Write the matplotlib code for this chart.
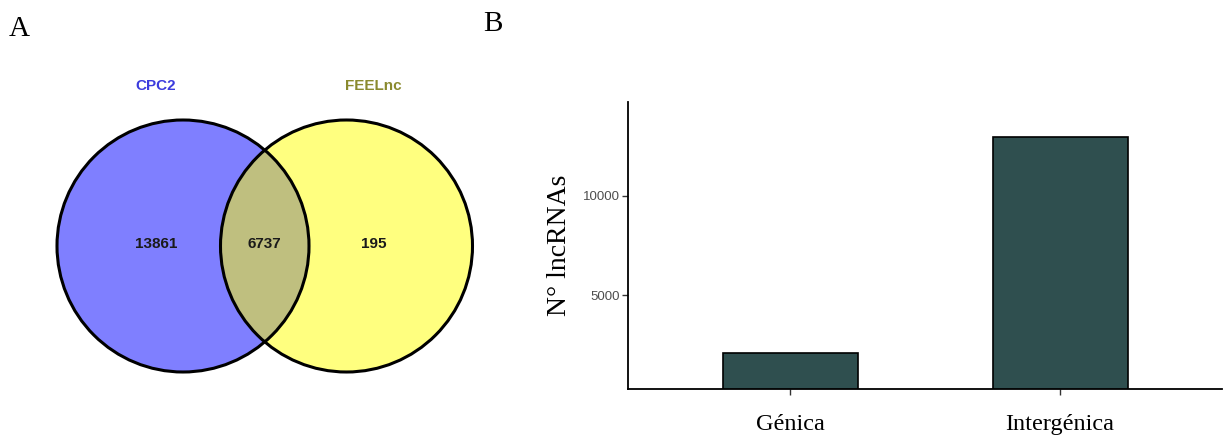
import matplotlib
matplotlib.use("Agg")
import matplotlib.pyplot as plt
from matplotlib.patches import Circle

# Venn counts
venn_sets = ["CPC2", "FEELnc"]
venn_counts = [13861, 6737, 195]  # only CPC2, both, only FEELnc
venn_colors = ["#0000FF", "#FFFF00"]
venn_label_colors = ["#3B3BDD", "#8A8A2E"]

# Bar data
categories = ["Génica", "Intergénica"]
counts = [2130, 12930]
yticks = [5000, 10000]

W, H = 1225, 437
fig = plt.figure(figsize=(W / 100, H / 100), dpi=100)

# Full-figure overlay in pixel coordinates for the Venn diagram and panel letters
ov = fig.add_axes([0, 0, 1, 1])
ov.set_xlim(0, W)
ov.set_ylim(H, 0)
ov.axis("off")

serif = ["Liberation Serif", "DejaVu Serif"]
sans = ["Liberation Sans", "DejaVu Sans"]

ov.text(9, 29, "A", fontsize=21, family=serif, ha="left", va="center")
ov.text(483, 24, "B", fontsize=21, family=serif, ha="left", va="center")

r = 126
centers = [(183, 246), (346.5, 246)]
for (cx, cy), col in zip(centers, venn_colors):
    ov.add_patch(Circle((cx, cy), r, facecolor=col, alpha=0.5, edgecolor="none", zorder=1))
for (cx, cy) in centers:
    ov.add_patch(Circle((cx, cy), r, facecolor="none", edgecolor="black", lw=2.2, zorder=2))

ov.text(156, 86, venn_sets[0], color=venn_label_colors[0], fontsize=11,
        fontweight="bold", family=sans, ha="center", va="center")
ov.text(373, 86, venn_sets[1], color=venn_label_colors[1], fontsize=11,
        fontweight="bold", family=sans, ha="center", va="center")
for x, v in zip([156, 264, 374], venn_counts):
    ov.text(x, 244, str(v), color="#1a1a1a", fontsize=11, fontweight="bold",
            family=sans, ha="center", va="center")

# Bar chart
x0, x1, y0, y1 = 628, 1222, 389, 102
ax = fig.add_axes([x0 / W, (H - y0) / H, (x1 - x0) / W, (y0 - y1) / H])
pos = list(range(1, len(categories) + 1))
ax.bar(pos, counts, width=0.5, color="#2F4F4F", edgecolor="black", linewidth=1.2)
ax.set_xlim(0.4, 2.6)
ax.set_ylim(315, 14680)
ax.set_xticks(pos)
ax.set_xticklabels(categories, family=serif, fontsize=17.5)
ax.set_yticks(yticks)
ax.set_yticklabels([str(t) for t in yticks], family=sans, fontsize=9.5, color="#4D4D4D")
ax.tick_params(axis="both", length=4, width=1, color="#333333")
ax.tick_params(axis="x", pad=14)
ax.tick_params(axis="y", pad=2)
for s in ["top", "right"]:
    ax.spines[s].set_visible(False)
for s in ["left", "bottom"]:
    ax.spines[s].set_linewidth(1.3)
ax.set_ylabel("N° lncRNAs", family=serif, fontsize=20, labelpad=8)

fig.savefig("out.png", dpi=100)
